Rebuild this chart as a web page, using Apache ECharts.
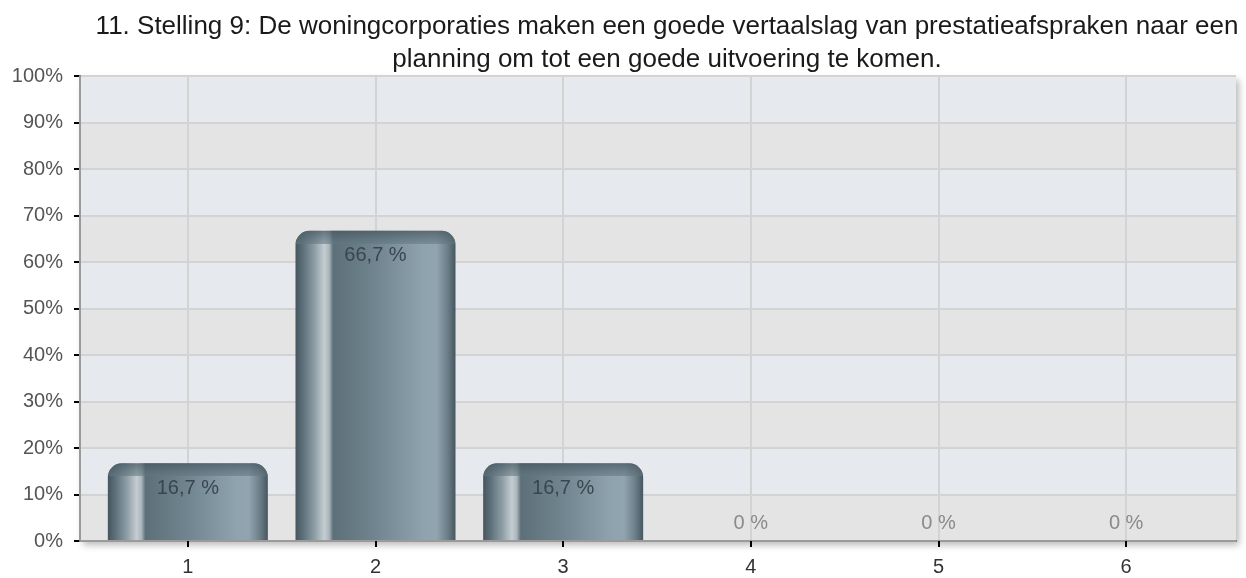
<!DOCTYPE html>
<html>
<head>
<meta charset="utf-8">
<script src="https://cdn.jsdelivr.net/npm/echarts@6/dist/echarts.min.js"></script>
<style>html,body{margin:0;padding:0;background:#fff;}#c{width:1246px;height:578px;}</style>
</head>
<body>
<div id="c"></div>
<script>
const titleLines = [
  '11. Stelling 9: De woningcorporaties maken een goede vertaalslag van prestatieafspraken naar een',
  'planning om tot een goede uitvoering te komen.'
];
const categories = ['1', '2', '3', '4', '5', '6'];
const values = [16.7, 66.7, 16.7, 0, 0, 0];
const yMin = 0, yMax = 100, yStep = 10;

const FONT = "'Liberation Sans', Arial, Helvetica, sans-serif";
const G = { top: 76, bottom: 37 };
const plotH = 578 - G.top - G.bottom;

function fmt(v) { return String(v).replace('.', ',') + ' %'; }

const barGrad = new echarts.graphic.LinearGradient(0, 0, 1, 0, [
  { offset: 0, color: '#44555e' },
  { offset: 0.05, color: '#5f727c' },
  { offset: 0.12, color: '#8e9ea6' },
  { offset: 0.18, color: '#c4cdd1' },
  { offset: 0.21, color: '#aab6bc' },
  { offset: 0.235, color: '#5d707a' },
  { offset: 0.5, color: '#70858f' },
  { offset: 0.8, color: '#8ea3ae' },
  { offset: 0.88, color: '#91a5b0' },
  { offset: 0.95, color: '#6c7f89' },
  { offset: 1, color: '#46565f' }
]);

const mainData = values.map(v => ({ value: v }));
const capData = values.map(v => {
  if (v === 0) {
    return { value: v, itemStyle: { color: 'rgba(0,0,0,0)' },
      label: { position: 'top', distance: 8, color: '#8a8a8a' } };
  }
  const h = v / (yMax - yMin) * plotH;
  const f = Math.min(0.9, 13 / h);
  return { value: v, itemStyle: { color: new echarts.graphic.LinearGradient(0, 0, 0, 1, [
    { offset: 0, color: 'rgba(70,88,98,0.75)' },
    { offset: f, color: 'rgba(100,120,130,0.55)' },
    { offset: f + 0.001, color: 'rgba(0,0,0,0)' },
    { offset: 1, color: 'rgba(0,0,0,0)' }
  ]) } };
});

const chart = echarts.init(document.getElementById('c'), null, { renderer: 'canvas' });
chart.setOption({
  animation: false,
  backgroundColor: '#ffffff',
  textStyle: { fontFamily: FONT },
  title: {
    text: titleLines.join('\n'),
    left: 662, top: 5, textAlign: 'center',
    textStyle: { fontFamily: FONT, fontSize: 26, fontWeight: 'normal', color: '#1a1a1a', lineHeight: 33 }
  },
  grid: [
    { left: 80, right: 10, top: G.top, bottom: G.bottom, show: true, borderWidth: 0,
      backgroundColor: '#e5e5e5', shadowColor: 'rgba(0,0,0,0.28)', shadowBlur: 7, shadowOffsetX: 3, shadowOffsetY: 4 },
    { left: 188, right: 120, top: G.top, bottom: G.bottom },
    { left: 94, right: 26, top: G.top, bottom: G.bottom }
  ],
  xAxis: [
    { gridIndex: 0, type: 'value', min: 0, max: 1, position: 'bottom', z: 6,
      axisLine: { show: true, lineStyle: { color: '#000', width: 2 } },
      axisTick: { show: false }, axisLabel: { show: false }, splitLine: { show: false } },
    { gridIndex: 0, type: 'value', min: 0, max: 1, position: 'top', z: 6,
      axisLine: { show: true, lineStyle: { color: '#9a9a9a', width: 2 } },
      axisTick: { show: false }, axisLabel: { show: false }, splitLine: { show: false } },
    { gridIndex: 1, type: 'value', min: 1, max: 6, interval: 1, z: 2,
      axisLine: { show: false }, axisTick: { show: false }, axisLabel: { show: false },
      splitLine: { show: true, lineStyle: { color: '#d3d3d3', width: 2 } } },
    { gridIndex: 2, type: 'category', data: categories, z: 6,
      axisLine: { show: true, lineStyle: { color: 'rgba(0,0,0,0)' } },
      axisTick: { show: true, alignWithLabel: true, length: 6, lineStyle: { color: '#000', width: 2 } },
      axisLabel: { margin: 16, fontSize: 20, color: '#333', fontFamily: FONT },
      splitLine: { show: false } }
  ],
  yAxis: [
    { gridIndex: 0, type: 'value', min: yMin, max: yMax, interval: yStep, z: 1,
      axisLine: { show: true, lineStyle: { color: '#000', width: 2 } },
      axisTick: { show: true, length: 6, lineStyle: { color: '#000', width: 2 } },
      axisLabel: { formatter: '{value}%', margin: 17, fontSize: 20, color: '#555', fontFamily: FONT },
      splitLine: { show: true, lineStyle: { color: '#d3d3d3', width: 2 } },
      splitArea: { show: true, areaStyle: { color: ['#e4e4e4', '#e6eaee'] } } },
    { gridIndex: 0, type: 'value', min: yMin, max: yMax, position: 'right', z: 6,
      axisLine: { show: true, lineStyle: { color: '#9a9a9a', width: 2 } },
      axisTick: { show: false }, axisLabel: { show: false }, splitLine: { show: false } },
    { gridIndex: 1, type: 'value', min: yMin, max: yMax, show: false },
    { gridIndex: 2, type: 'value', min: yMin, max: yMax, show: false }
  ],
  series: [
    { type: 'bar', xAxisIndex: 3, yAxisIndex: 3, z: 3, barWidth: 160,
      data: mainData,
      itemStyle: { color: barGrad, borderRadius: [14, 14, 0, 0] } },
    { type: 'bar', xAxisIndex: 3, yAxisIndex: 3, z: 4, barWidth: 160, barGap: '-100%',
      data: capData,
      itemStyle: { borderRadius: [14, 14, 0, 0] },
      label: { show: true, position: 'insideTop', distance: 15, fontSize: 20, color: '#3a464e',
        fontFamily: FONT, formatter: p => fmt(p.value) } }
  ]
});
</script>
</body>
</html>
